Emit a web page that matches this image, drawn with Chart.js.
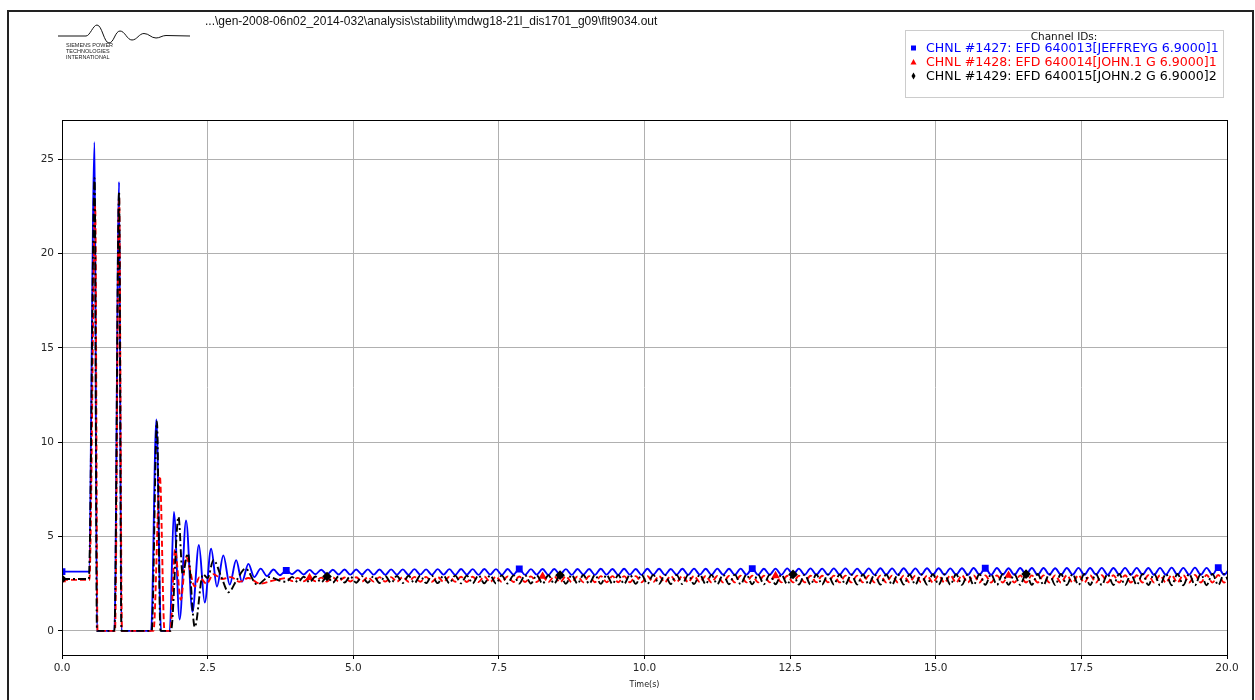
<!DOCTYPE html>
<html>
<head>
<meta charset="utf-8">
<script src="https://cdn.jsdelivr.net/npm/chart.js@4.4.1/dist/chart.umd.min.js"></script>
<style>
  html, body { margin: 0; padding: 0; background: #fff; }
  #wrap { width: 1255px; height: 700px; }
</style>
</head>
<body>
<div id="wrap"><canvas id="plot" width="1255" height="700"></canvas></div>
<script>
// axis ticks
const xTicks = [0, 2.5, 5, 7.5, 10, 12.5, 15, 17.5, 20];
const yTicks = [0, 5, 10, 15, 20, 25];

const filePath = "...\\gen-2008-06n02_2014-032\\analysis\\stability\\mdwg18-21l_dis1701_g09\\flt9034.out";
const channelLabels = [
  "CHNL #1427: EFD 640013[JEFFREYG 6.9000]1",
  "CHNL #1428: EFD 640014[JOHN.1 G 6.9000]1",
  "CHNL #1429: EFD 640015[JOHN.2 G 6.9000]2"
];

// fault transient, read per channel
const tEarlyBlue = [0, 0.46, 0.56, 0.6, 0.9, 0.98, 1.02, 1.53, 1.62, 1.7, 1.85, 1.92, 2.02, 2.13, 2.24, 2.35, 2.45, 2.56, 2.66, 2.77, 2.88, 2.99, 3.09, 3.2, 3.3, 3.41, 3.52, 3.63, 3.74];
const vEarlyBlue = [3.14, 3.14, 25.9, 0, 0, 23.8, 0, 0, 11.2, 0, 0, 6.3, 0.6, 5.85, 1.0, 4.55, 1.5, 4.35, 2.35, 4.0, 2.45, 3.75, 2.6, 3.55, 2.85, 3.3, 2.9, 3.25, 2.95];

const tEarlyRed = [0, 0.47, 0.57, 0.61, 0.91, 0.98, 1.03, 1.57, 1.68, 1.76, 1.86, 1.94, 2.04, 2.13, 2.28, 2.36, 2.48, 2.6, 2.75, 2.9, 3.05, 3.2, 3.4, 3.6, 3.75];
const vEarlyRed = [2.7, 2.7, 22.5, 0, 0, 23.0, 0, 0, 8.2, 0, 0, 4.3, 1.65, 3.9, 2.35, 2.85, 2.5, 3.0, 2.75, 2.85, 2.6, 2.8, 2.5, 2.65, 2.75];

const tEarlyBlack = [0, 0.46, 0.56, 0.6, 0.9, 0.98, 1.02, 1.54, 1.63, 1.69, 1.87, 2.0, 2.07, 2.16, 2.28, 2.42, 2.5, 2.6, 2.73, 2.86, 3.0, 3.15, 3.35, 3.55, 3.75];
const vEarlyBlack = [2.75, 2.75, 24.0, 0, 0, 23.3, 0, 0, 11.1, 0, 0, 6.05, 3.0, 4.1, 0.2, 3.0, 2.8, 3.75, 2.9, 2.05, 2.7, 3.3, 2.45, 2.85, 2.65];

// post-fault oscillation, peaks and troughs
const tLate = [
  3.85,3.95,4.05,4.15,4.25,4.35,4.45,4.55,4.65,4.75,
  4.85,4.95,5.05,5.15,5.25,5.35,5.45,5.55,5.65,5.75,
  5.85,5.95,6.05,6.15,6.25,6.35,6.45,6.55,6.65,6.75,
  6.85,6.95,7.05,7.15,7.25,7.35,7.45,7.55,7.65,7.75,
  7.85,7.95,8.05,8.15,8.25,8.35,8.45,8.55,8.65,8.75,
  8.85,8.95,9.05,9.15,9.25,9.35,9.45,9.55,9.65,9.75,
  9.85,9.95,10.05,10.15,10.25,10.35,10.45,10.55,10.65,10.75,
  10.85,10.95,11.05,11.15,11.25,11.35,11.45,11.55,11.65,11.75,
  11.85,11.95,12.05,12.15,12.25,12.35,12.45,12.55,12.65,12.75,
  12.85,12.95,13.05,13.15,13.25,13.35,13.45,13.55,13.65,13.75,
  13.85,13.95,14.05,14.15,14.25,14.35,14.45,14.55,14.65,14.75,
  14.85,14.95,15.05,15.15,15.25,15.35,15.45,15.55,15.65,15.75,
  15.85,15.95,16.05,16.15,16.25,16.35,16.45,16.55,16.65,16.75,
  16.85,16.95,17.05,17.15,17.25,17.35,17.45,17.55,17.65,17.75,
  17.85,17.95,18.05,18.15,18.25,18.35,18.45,18.55,18.65,18.75,
  18.85,18.95,19.05,19.15,19.25,19.35,19.45,19.55,19.65,19.75,
  19.85,19.95,20.05
];
const vLateBlue = [
  3.20,3.00,3.22,2.99,3.23,3.00,3.24,2.98,3.24,2.99,
  3.25,2.98,3.25,2.99,3.26,2.98,3.25,2.97,3.26,2.98,
  3.26,2.97,3.27,2.98,3.26,2.97,3.27,2.98,3.27,2.97,
  3.28,2.98,3.27,2.97,3.28,2.98,3.27,2.97,3.28,2.98,
  3.28,2.97,3.27,2.98,3.28,2.97,3.28,2.98,3.27,2.97,
  3.28,2.98,3.28,2.97,3.29,2.98,3.28,2.97,3.29,2.98,
  3.28,2.97,3.29,2.98,3.29,2.97,3.28,2.98,3.29,2.97,
  3.30,2.98,3.29,2.97,3.30,2.98,3.29,2.97,3.30,2.98,
  3.30,2.97,3.29,2.98,3.30,2.97,3.31,2.98,3.30,2.97,
  3.31,2.98,3.30,2.97,3.31,2.98,3.31,2.97,3.30,2.98,
  3.31,2.97,3.32,2.98,3.31,2.97,3.32,2.98,3.31,2.97,
  3.32,2.98,3.32,2.97,3.31,2.98,3.32,2.97,3.33,2.98,
  3.32,2.97,3.33,2.98,3.32,2.97,3.33,2.98,3.33,2.97,
  3.33,2.98,3.32,2.97,3.33,2.98,3.34,2.97,3.33,2.98,
  3.34,2.97,3.33,2.98,3.34,2.97,3.34,2.98,3.33,2.97,
  3.34,2.98,3.35,2.97,3.34,2.98,3.35,2.97,3.34,2.98,
  3.35,2.97,3.35
];
const vLateRed = [
  2.80,2.64,2.81,2.63,2.82,2.63,2.82,2.62,2.83,2.62,
  2.83,2.62,2.84,2.61,2.84,2.61,2.85,2.61,2.85,2.61,
  2.85,2.60,2.86,2.60,2.86,2.60,2.86,2.60,2.87,2.60,
  2.87,2.59,2.87,2.59,2.88,2.59,2.88,2.59,2.88,2.59,
  2.88,2.59,2.89,2.59,2.89,2.58,2.89,2.58,2.89,2.58,
  2.89,2.58,2.90,2.58,2.90,2.58,2.90,2.58,2.90,2.58,
  2.90,2.58,2.90,2.58,2.91,2.58,2.91,2.58,2.91,2.58,
  2.91,2.58,2.91,2.57,2.91,2.57,2.91,2.57,2.92,2.57,
  2.92,2.57,2.92,2.57,2.92,2.57,2.92,2.57,2.92,2.57,
  2.92,2.57,2.92,2.57,2.93,2.57,2.93,2.57,2.93,2.57,
  2.93,2.57,2.93,2.57,2.93,2.57,2.93,2.57,2.93,2.57,
  2.93,2.56,2.93,2.56,2.94,2.56,2.94,2.56,2.94,2.56,
  2.94,2.56,2.94,2.56,2.94,2.56,2.94,2.56,2.94,2.56,
  2.94,2.56,2.94,2.56,2.95,2.56,2.95,2.56,2.95,2.56,
  2.95,2.56,2.95,2.56,2.95,2.56,2.95,2.56,2.95,2.56,
  2.95,2.56,2.95,2.56,2.96,2.56,2.96,2.56,2.96,2.56,
  2.96,2.56,2.96
];
const vLateBlack = [
  2.60,2.86,2.58,2.87,2.57,2.88,2.57,2.88,2.56,2.89,
  2.56,2.89,2.55,2.90,2.55,2.90,2.54,2.91,2.54,2.91,
  2.54,2.92,2.53,2.92,2.53,2.92,2.53,2.93,2.52,2.93,
  2.52,2.93,2.52,2.94,2.52,2.94,2.51,2.94,2.51,2.94,
  2.51,2.95,2.51,2.95,2.50,2.95,2.50,2.95,2.50,2.96,
  2.50,2.96,2.50,2.96,2.49,2.96,2.49,2.96,2.49,2.97,
  2.49,2.97,2.49,2.97,2.49,2.97,2.48,2.97,2.48,2.97,
  2.48,2.98,2.48,2.97,2.48,2.98,2.47,2.98,2.47,2.98,
  2.47,2.98,2.47,2.98,2.47,2.98,2.47,2.99,2.46,2.98,
  2.46,2.99,2.46,2.99,2.46,2.99,2.46,2.99,2.46,2.99,
  2.46,2.99,2.45,2.99,2.45,3.00,2.45,2.99,2.45,3.00,
  2.45,3.00,2.45,3.00,2.45,3.00,2.44,3.00,2.44,3.00,
  2.44,3.00,2.44,3.01,2.44,3.00,2.44,3.01,2.44,3.01,
  2.44,3.01,2.43,3.01,2.43,3.01,2.43,3.01,2.43,3.01,
  2.43,3.01,2.43,3.02,2.43,3.01,2.43,3.02,2.43,3.02,
  2.42,3.02,2.42,3.02,2.42,3.02,2.42,3.02,2.42,3.02,
  2.42,3.02,2.42
];

// marker positions (s)
const marksBlue = [0, 3.85, 7.85, 11.85, 15.85, 19.85];
const marksRed = [0, 4.25, 8.25, 12.25, 16.25];
const marksBlack = [0, 4.55, 8.55, 12.55, 16.55];

const toPoints = (ts, vs) => ts.map((t, i) => ({ x: t, y: vs[i] }));
const markRadius = (marks, r) => (ctx) => {
  if (!ctx.raw) return 0;
  return marks.some((m) => Math.abs(m - ctx.raw.x) < 0.01) ? r : 0;
};

const frameAndDecor = {
  id: "frameAndDecor",
  beforeDraw(chart) {
    const c = chart.ctx;
    c.save();
    c.fillStyle = "#fff";
    c.fillRect(0, 0, chart.width, chart.height);
    // outer frame
    c.strokeStyle = "#222";
    c.lineWidth = 2;
    c.strokeRect(8, 11, 1245, 700);
    // logo wave
    c.strokeStyle = "#111";
    c.lineWidth = 1;
    c.beginPath();
    c.moveTo(58, 36);
    c.lineTo(86, 36);
    c.bezierCurveTo(90, 36, 93, 25, 97, 25);
    c.bezierCurveTo(102, 25, 104, 43, 109, 43);
    c.bezierCurveTo(114, 43, 115, 31, 120, 31);
    c.bezierCurveTo(125, 31, 127, 40, 132, 40);
    c.bezierCurveTo(137, 40, 139, 33.5, 144, 33.5);
    c.bezierCurveTo(149, 33.5, 151, 38, 156, 38);
    c.bezierCurveTo(160, 38, 162, 35.5, 166, 35.5);
    c.lineTo(190, 36);
    c.stroke();
    c.fillStyle = "#222";
    c.font = "5.5px 'Liberation Sans'";
    c.textBaseline = "middle";
    c.fillText("SIEMENS POWER", 66, 45);
    c.fillText("TECHNOLOGIES", 66, 51);
    c.fillText("INTERNATIONAL", 66, 57);
    c.font = "12px 'Liberation Sans'";
    c.fillStyle = "#111";
    c.fillText(filePath, 205, 22);
    c.restore();
  },
  afterDatasetsDraw(chart) {
    const c = chart.ctx;
    const a = chart.chartArea;
    c.save();
    c.strokeStyle = "#000";
    c.lineWidth = 1;
    c.strokeRect(Math.round(a.left) + 0.5, Math.round(a.top) + 0.5, Math.round(a.right - a.left), Math.round(a.bottom - a.top));
    c.restore();
  },
  afterDraw(chart) {
    const c = chart.ctx;
    c.save();
    c.fillStyle = "rgba(255,255,255,0.9)";
    c.strokeStyle = "#ccc";
    c.lineWidth = 1;
    c.fillRect(905.5, 30.5, 318, 67);
    c.strokeRect(905.5, 30.5, 318, 67);
    c.fillStyle = "#111";
    c.font = "10.5px 'DejaVu Sans'";
    c.textAlign = "center";
    c.textBaseline = "middle";
    c.fillText("Channel IDs:", 1064, 37);
    c.textAlign = "left";
    c.font = "12.6px 'DejaVu Sans'";
    chart.data.datasets.forEach((ds, i) => {
      const y = 48 + i * 14;
      c.fillStyle = ds.borderColor;
      c.beginPath();
      if (ds.pointStyle === "rect") {
        c.rect(911, y - 2.5, 5, 5);
      } else if (ds.pointStyle === "triangle") {
        c.moveTo(913.5, y - 3); c.lineTo(916.5, y + 2.5); c.lineTo(910.5, y + 2.5); c.closePath();
      } else {
        c.moveTo(913.5, y - 3.5); c.lineTo(915.5, y); c.lineTo(913.5, y + 3.5); c.lineTo(911.5, y); c.closePath();
      }
      c.fill();
      c.fillText(ds.label, 926, y + 1);
    });
    c.restore();
  }
};

new Chart(document.getElementById("plot"), {
  type: "line",
  data: {
    datasets: [
      {
        label: channelLabels[0],
        data: toPoints(tEarlyBlue.concat(tLate), vEarlyBlue.concat(vLateBlue)),
        borderColor: "#0000ff",
        backgroundColor: "#0000ff",
        borderWidth: 1.9,
        pointStyle: "rect",
        pointRadius: markRadius(marksBlue, 3.5),
        order: 3
      },
      {
        label: channelLabels[1],
        data: toPoints(tEarlyRed.concat(tLate), vEarlyRed.concat(vLateRed)),
        borderColor: "#ff0000",
        backgroundColor: "#ff0000",
        borderWidth: 1.9,
        borderDash: [6, 3],
        pointStyle: "triangle",
        pointRadius: markRadius(marksRed, 3),
        order: 2
      },
      {
        label: channelLabels[2],
        data: toPoints(tEarlyBlack.concat(tLate), vEarlyBlack.concat(vLateBlack)),
        borderColor: "#000000",
        backgroundColor: "#000000",
        borderWidth: 1.9,
        borderDash: [8, 3, 2, 3],
        pointStyle: "rectRot",
        pointRadius: markRadius(marksBlack, 3.5),
        order: 1
      }
    ]
  },
  options: {
    responsive: false,
    animation: false,
    parsing: false,
    cubicInterpolationMode: "monotone",
    layout: { padding: { left: 0, top: 120, right: 28, bottom: 0 } },
    elements: { point: { hoverRadius: 0 } },
    plugins: {
      legend: { display: false },
      tooltip: { enabled: false }
    },
    scales: {
      x: {
        type: "linear",
        min: 0,
        max: 20,
        afterBuildTicks: (s) => { s.ticks = xTicks.map((v) => ({ value: v })); },
        afterFit: (s) => { s.height = 45; },
        border: { display: false },
        grid: { color: "#b0b0b0", lineWidth: 1, tickColor: "#000", tickLength: 4 },
        ticks: {
          color: "#262626",
          font: { family: "DejaVu Sans", size: 10.5 },
          padding: 3,
          maxRotation: 0,
          callback: (v) => v.toFixed(1)
        },
        title: {
          display: true,
          text: "Time(s)",
          color: "#222",
          font: { family: "DejaVu Sans", size: 8 },
          padding: { top: 2, bottom: 10 }
        }
      },
      y: {
        type: "linear",
        min: -1.28,
        max: 27.08,
        afterBuildTicks: (s) => { s.ticks = yTicks.map((v) => ({ value: v })); },
        afterFit: (s) => { s.width = 62; },
        border: { display: false },
        grid: { color: "#b0b0b0", lineWidth: 1, tickColor: "#000", tickLength: 4 },
        ticks: {
          color: "#262626",
          font: { family: "DejaVu Sans", size: 10.5 },
          padding: 4
        }
      }
    }
  },
  plugins: [frameAndDecor]
});
</script>
</body>
</html>
